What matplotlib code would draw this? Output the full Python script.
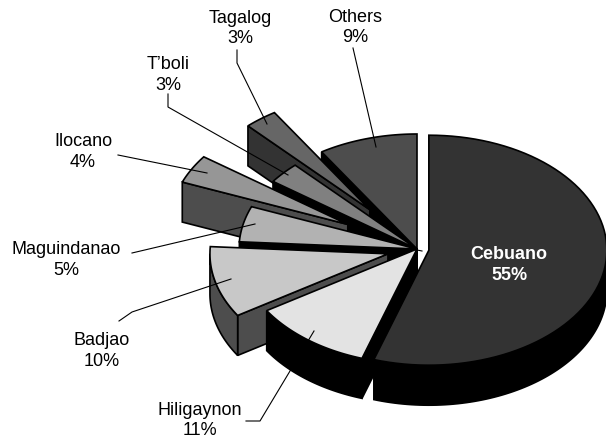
import numpy as np
import matplotlib
matplotlib.use("Agg")
import matplotlib.pyplot as plt
from matplotlib.patches import Polygon

plt.rcParams['font.family'] = ['Liberation Sans', 'DejaVu Sans']

# Languages, clockwise from 12 o'clock
languages = ["Cebuano", "Hiligaynon", "Badjao", "Maguindanao", "Ilocano", "T\u2019boli", "Tagalog", "Others"]
shares = [55, 11, 10, 5, 4, 3, 3, 9]

top_colors = ["#333333", "#e3e3e3", "#c8c8c8", "#b2b2b2", "#969696", "#808080", "#666666", "#4d4d4d"]
side_colors = ["#000000", "#000000", "#4d4d4d", "#000000", "#4d4d4d", "#000000", "#333333", "#000000"]
explode = [12, 0, 30, 0, 79, 0, 77, 0]

# centre x and first baseline of each two-line label
label_pos = [(509, 259), (200, 415), (102, 345), (66, 254), (83, 146), (168, 69), (240, 23), (355, 22)]
line_gap = [21, 20, 21, 21, 21, 21, 20, 20]

leaders = [
    [(417, 251), (422, 252)],
    [(246, 422), (260, 422), (314, 332)],
    [(119, 322), (132, 313), (231, 280)],
    [(132, 254), (255, 225)],
    [(118, 156), (207, 174)],
    [(168, 95), (168, 108), (288, 176)],
    [(237, 51), (237, 64), (267, 125)],
    [(353, 49), (376, 148)],
]

# pie geometry in pixels
CX, CY = 417, 250
RX, RY = 178, 115
DEPTH = 40

fig = plt.figure(figsize=(6.06, 4.39), dpi=100)
ax = fig.add_axes([0, 0, 1, 1])
ax.set_xlim(0, 606)
ax.set_ylim(439, 0)
ax.axis("off")


def draw_slice(i, start, end, z):
    mid = (start + end) / 2
    ox = CX + explode[i] * np.sin(mid)
    oy = CY - explode[i] * np.cos(mid) * RY / RX

    ts = np.linspace(start, end, 80)
    rim_x = ox + RX * np.sin(ts)
    rim_y = oy - RY * np.cos(ts)

    # cut face along the starting edge, only seen on the left half
    if np.sin(start) < -1e-6:
        x0, y0 = rim_x[0], rim_y[0]
        face = [(ox, oy), (x0, y0), (x0, y0 + DEPTH), (ox, oy + DEPTH)]
        ax.add_patch(Polygon(face, closed=True, fc=side_colors[i], ec="black", lw=1.2, zorder=z))

    # cut face along the end edge, only seen on the right half
    if np.sin(end) > 1e-6:
        x1, y1 = rim_x[-1], rim_y[-1]
        face = [(ox, oy), (x1, y1), (x1, y1 + DEPTH), (ox, oy + DEPTH)]
        ax.add_patch(Polygon(face, closed=True, fc=side_colors[i], ec="black", lw=1.2, zorder=z))

    # outer wall where the rim faces the viewer
    lo, hi = max(start, np.pi / 2), min(end, 3 * np.pi / 2)
    if hi > lo:
        tw = np.linspace(lo, hi, 80)
        wx = ox + RX * np.sin(tw)
        wy = oy - RY * np.cos(tw)
        wall = np.r_[np.c_[wx, wy], np.c_[wx[::-1], wy[::-1] + DEPTH]]
        ax.add_patch(Polygon(wall, closed=True, fc=side_colors[i], ec="black", lw=1.2, zorder=z))

    top = np.r_[[[ox, oy]], np.c_[rim_x, rim_y]]
    ax.add_patch(Polygon(top, closed=True, fc=top_colors[i], ec="black", lw=1.2, zorder=z + 0.5))


fractions = np.array(shares, dtype=float) / sum(shares)
edges = np.r_[0, np.cumsum(fractions)] * 2 * np.pi

# back slices first, the big Cebuano wedge goes on last
n = len(shares)
for i in range(n):
    order = n + 1 if i == 0 else n - i
    draw_slice(i, edges[i], edges[i + 1], order)

for pts in leaders:
    xs, ys = zip(*pts)
    ax.plot(xs, ys, color="black", lw=0.8, zorder=20, solid_joinstyle="miter")

for i, name in enumerate(languages):
    color = "white" if i == 0 else "black"
    weight = "bold" if i == 0 else "normal"
    x, y = label_pos[i]
    for text, yy in ((name, y), (f"{shares[i]}%", y + line_gap[i])):
        ax.text(x, yy, text, ha="center", va="baseline", color=color, fontweight=weight,
                fontsize=13, zorder=30)

fig.savefig("out.png", dpi=100)
